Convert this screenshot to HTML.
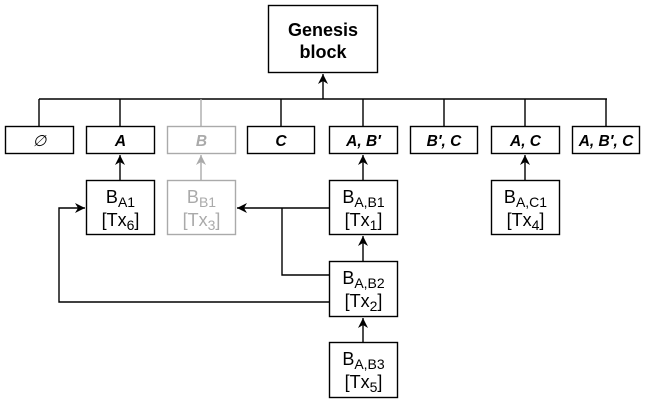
<!DOCTYPE html>
<html><head><meta charset="utf-8"><style>html,body{margin:0;padding:0;background:#fff}svg{display:block}</style></head><body>
<svg width="645" height="402" viewBox="0 0 645 402" xmlns="http://www.w3.org/2000/svg" font-family="Liberation Sans, Arial, sans-serif">
<defs>
<marker id="a" viewBox="0 0 10 10" refX="10" refY="5" markerWidth="10" markerHeight="10" orient="auto-start-reverse" markerUnits="userSpaceOnUse"><path d="M0,0 L10,5 L0,10 L3,5 z" fill="#000"/></marker>
<marker id="g" viewBox="0 0 10 10" refX="10" refY="5" markerWidth="10" markerHeight="10" orient="auto-start-reverse" markerUnits="userSpaceOnUse"><path d="M0,0 L10,5 L0,10 L3,5 z" fill="#aaa"/></marker>
</defs>
<g fill="none" stroke="#000" stroke-width="1.4">
<rect x="268.5" y="5.5" width="109" height="67"/>
<line x1="323" y1="99" x2="323" y2="74" marker-end="url(#a)"/>
<line x1="39" y1="99" x2="607" y2="99"/>
<path d="M39,99V126M120,99V126M281,99V126M363,99V126M444,99V126M525,99V126M606,99V126"/>
<rect x="5.5" y="126.5" width="68" height="27"/>
<rect x="86.5" y="126.5" width="68" height="27"/>
<rect x="247.5" y="126.5" width="67" height="27"/>
<rect x="329.5" y="126.5" width="68" height="27"/>
<rect x="410.5" y="126.5" width="67" height="27"/>
<rect x="491.5" y="126.5" width="68" height="27"/>
<rect x="572.5" y="126.5" width="67" height="27"/>
<rect x="86.5" y="180.5" width="68" height="54"/>
<rect x="329.5" y="180.5" width="68" height="54"/>
<rect x="491.5" y="180.5" width="68" height="54"/>
<rect x="329.5" y="261.5" width="68" height="55"/>
<rect x="329.5" y="342.5" width="68" height="55"/>
<line x1="120" y1="180" x2="120" y2="155" marker-end="url(#a)"/>
<line x1="363" y1="180" x2="363" y2="155" marker-end="url(#a)"/>
<line x1="525" y1="180" x2="525" y2="155" marker-end="url(#a)"/>
<line x1="363" y1="261" x2="363" y2="236" marker-end="url(#a)"/>
<line x1="363" y1="342" x2="363" y2="318" marker-end="url(#a)"/>
<line x1="329" y1="208" x2="237" y2="208" marker-end="url(#a)"/>
<path d="M329,275H282V208"/>
<path d="M329,302H59V208H85" marker-end="url(#a)"/>
</g>
<g fill="none" stroke="#aaa" stroke-width="1.4">
<line x1="201" y1="99" x2="201" y2="126"/>
<rect x="167.5" y="126.5" width="68" height="27"/>
<rect x="167.5" y="180.5" width="68" height="54"/>
<line x1="201" y1="180" x2="201" y2="155" marker-end="url(#g)"/>
</g>
<g font-weight="bold" text-anchor="middle" font-size="18">
<text x="323" y="36">Genesis</text>
<text x="323" y="58">block</text>
</g>
<g font-weight="bold" font-style="italic" text-anchor="middle" font-size="15.5">
<text x="39.5" y="146" font-weight="normal">∅</text>
<text x="120.5" y="146">A</text>
<text x="201.5" y="146" fill="#aaa">B</text>
<text x="281" y="146">C</text>
<text x="363.5" y="146">A, B′</text>
<text x="444" y="146">B′, C</text>
<text x="525.5" y="146">A, C</text>
<text x="606" y="146">A, B′, C</text>
</g>
<g text-anchor="middle" font-size="18">
<text x="120.5" y="203">B<tspan font-size="14" dy="4">A1</tspan></text>
<text x="120.5" y="226">[Tx<tspan font-size="14" dy="4">6</tspan><tspan dy="-4">]</tspan></text>
<g fill="#aaa">
<text x="201.5" y="203">B<tspan font-size="14" dy="4">B1</tspan></text>
<text x="201.5" y="226">[Tx<tspan font-size="14" dy="4">3</tspan><tspan dy="-4">]</tspan></text>
</g>
<text x="363.5" y="203">B<tspan font-size="14" dy="4">A,B1</tspan></text>
<text x="363.5" y="226">[Tx<tspan font-size="14" dy="4">1</tspan><tspan dy="-4">]</tspan></text>
<text x="525.5" y="203">B<tspan font-size="14" dy="4">A,C1</tspan></text>
<text x="525.5" y="226">[Tx<tspan font-size="14" dy="4">4</tspan><tspan dy="-4">]</tspan></text>
<text x="363.5" y="284">B<tspan font-size="14" dy="4">A,B2</tspan></text>
<text x="363.5" y="307">[Tx<tspan font-size="14" dy="4">2</tspan><tspan dy="-4">]</tspan></text>
<text x="363.5" y="365">B<tspan font-size="14" dy="4">A,B3</tspan></text>
<text x="363.5" y="388">[Tx<tspan font-size="14" dy="4">5</tspan><tspan dy="-4">]</tspan></text>
</g>
</svg>
</body></html>
